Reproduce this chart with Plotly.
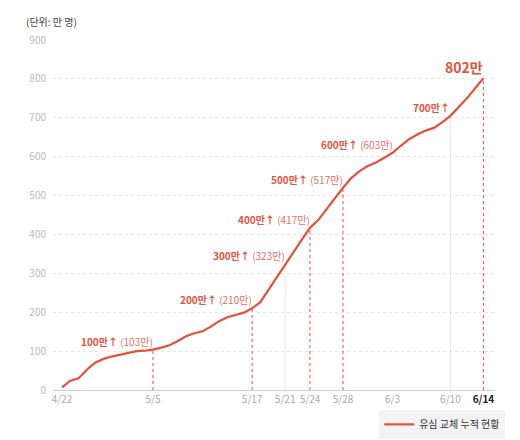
import plotly.graph_objects as go

dates = ["4/22", "4/25", "4/26", "4/27", "4/28", "4/29", "4/30", "5/1", "5/2", "5/3", "5/4", "5/5",
         "5/6", "5/7", "5/8", "5/9", "5/10", "5/11", "5/12", "5/13", "5/14", "5/15", "5/16", "5/17",
         "5/18", "5/19", "5/20", "5/21", "5/22", "5/23", "5/24", "5/25", "5/26", "5/27", "5/28",
         "5/29", "5/30", "5/31", "6/1", "6/2", "6/3", "6/4", "6/5", "6/6", "6/7", "6/8", "6/9",
         "6/10", "6/11", "6/12", "6/13", "6/14"]
values = [7, 24, 30, 52, 70, 80, 86, 91, 96, 100, 101, 104,
          109, 115, 126, 138, 146, 151, 163, 177, 187, 193, 199, 210,
          226, 258, 291, 323, 354, 386, 417, 437, 465, 492, 520,
          545, 563, 576, 585, 597, 610, 628, 645, 657, 667, 674, 688,
          705, 728, 750, 776, 802]

tick_dates = ["4/22", "5/5", "5/17", "5/21", "5/24", "5/28", "6/3", "6/10", "6/14"]
y_ticks = [0, 100, 200, 300, 400, 500, 600, 700, 800, 900]

milestone_dates = ["5/5", "5/17", "5/21", "5/24", "5/28", "6/3", "6/10"]
milestone_main = ["100만↑", "200만↑", "300만↑", "400만↑", "500만↑", "600만↑", "700만↑"]
milestone_sub = ["(103만)", "(210만)", "(323만)", "(417만)", "(517만)", "(603만)", ""]
red_marker_dates = ["5/5", "5/17", "5/24", "5/28", "6/14"]
gray_marker_dates = ["5/21", "6/10"]
final_label = "802만"
series_name = "유심 교체 누적 현황"
unit_label = "(단위: 만 명)"

RED = "#e5523c"
FONT = "Noto Sans CJK KR"

fig = go.Figure()

val = dict(zip(dates, values))

for d in gray_marker_dates:
    fig.add_trace(go.Scatter(x=[d, d], y=[0, val[d]], mode="lines",
                             line=dict(color="#e6e6e6", width=1),
                             showlegend=False, hoverinfo="skip"))
for d in red_marker_dates:
    fig.add_trace(go.Scatter(x=[d, d], y=[0, val[d]], mode="lines",
                             line=dict(color=RED, width=1, dash="dot"),
                             showlegend=False, hoverinfo="skip"))

fig.add_trace(go.Scatter(x=dates, y=values, mode="lines", name=series_name,
                         line=dict(color=RED, width=2.2)))

annotations = []
for d, m, s in zip(milestone_dates, milestone_main, milestone_sub):
    txt = f"<b>{m}</b>" + (f" <span style='color:#e8705f'>{s}</span>" if s else "")
    annotations.append(dict(x=d, y=val[d], xref="x", yref="y", text=txt, showarrow=False,
                            xanchor="right", yanchor="bottom", yshift=-1, xshift=2,
                            font=dict(family=FONT, size=10, color=RED)))
annotations.append(dict(x=dates[-1], y=values[-1], xref="x", yref="y",
                        text=f"<b>{final_label}</b>", showarrow=False,
                        xanchor="right", yanchor="bottom", yshift=-1, xshift=2,
                        font=dict(family=FONT, size=14, color=RED)))
annotations.append(dict(x=-0.066, y=1.052, xref="paper", yref="paper", text=unit_label,
                        showarrow=False, xanchor="left", yanchor="middle",
                        font=dict(family=FONT, size=10, color="#444")))

ticktext = [f"<b><span style='color:#222'>{t}</span></b>" if t == dates[-1] else t for t in tick_dates]

fig.update_layout(
    width=512, height=432,
    margin=dict(l=45, r=25, t=32, b=50, autoexpand=False),
    paper_bgcolor="white", plot_bgcolor="white",
    font=dict(family=FONT, size=10, color="#aaa"),
    annotations=annotations,
    showlegend=True,
    legend=dict(x=1.023, y=-0.057, xanchor="right", yanchor="top",
                bgcolor="#f3f3f3", font=dict(family=FONT, size=10, color="#333"),
                borderwidth=0),
    xaxis=dict(type="category", categoryorder="array", categoryarray=dates,
               range=[-1.1, 52.4], tickmode="array", tickvals=tick_dates, ticktext=ticktext,
               showgrid=False, showline=True, linecolor="#cfcfcf", linewidth=1, automargin=False,
               ticks="", tickfont=dict(family=FONT, size=10, color="#aaa"), zeroline=False),
    yaxis=dict(range=[0, 900], tickvals=y_ticks, showgrid=True, gridcolor="#e6e6e6",
               griddash="dot", gridwidth=1, zeroline=False, showline=False, ticks="",
               automargin=False,
               ticklabelstandoff=6, tickfont=dict(family=FONT, size=10, color="#bbb")),
)

fig.write_html("out.html")
